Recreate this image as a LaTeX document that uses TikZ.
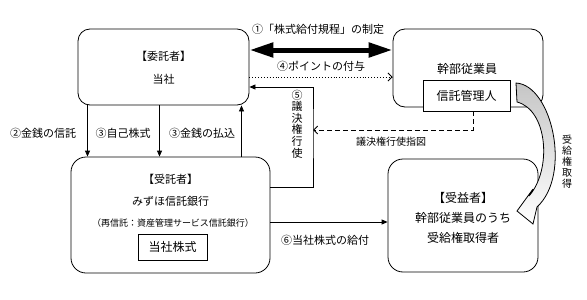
\documentclass[tikz,border=0pt]{standalone}
\usepackage{fontspec}
\setmainfont{Noto Sans CJK JP}
\usetikzlibrary{arrows.meta}

\begin{document}
\begin{tikzpicture}
[
	x=1pt,y=-1pt,
	box/.style={draw,line width=0.8pt,rounded corners=12pt,inner sep=0pt},
	subbox/.style={draw,fill=white,line width=0.8pt,inner sep=0pt,font=\fontsize{12}{14}\selectfont},
	lbl/.style={inner sep=0pt,align=center,font=\fontsize{11}{13}\selectfont},
	arr/.style={-{Triangle[length=6pt,width=5pt]},line width=0.8pt},
	openarr/.style={-{Straight Barb[length=4pt,width=8pt]},line width=0.9pt},
	bigarr/.style={{Triangle[length=24pt,width=14pt]}-{Triangle[length=24pt,width=14pt]},line width=5pt}
]

	\useasboundingbox (0,0) rectangle (587,300);

	% boxes
	\node[box,minimum width=171pt,minimum height=76pt] (cons) at (163.5,67) {};
	\node[lbl,font=\fontsize{11}{23}\selectfont] (consname) at (163.5,68) {【委託者】\\当社};

	\node[box,minimum width=150pt,minimum height=78pt] (exec) at (468,68) {};
	\node[lbl,font=\fontsize{12}{14}\selectfont] (execname) at (467,69) {幹部従業員};
	\node[subbox,minimum width=87pt,minimum height=31pt] (mgr) at (466.5,95.5) {信託管理人};

	\node[box,rounded corners=15pt,minimum width=199pt,minimum height=116pt] (trustee) at (170.5,215) {};
	\node[lbl,font=\fontsize{11}{22}\selectfont] (trusteename) at (170.5,190) {【受託者】\\みずほ信託銀行};
	\node[lbl,font=\fontsize{9}{11}\selectfont] (resub) at (173,223) {（再信託：資産管理サービス信託銀行）};
	\node[subbox,minimum width=69pt,minimum height=26pt] (stock) at (172.5,247) {当社株式};

	\node[box,rounded corners=15pt,minimum width=150pt,minimum height=113pt] (benef) at (463,215.5) {};
	\node[lbl,font=\fontsize{12}{20}\selectfont] (benefname) at (463,218) {【受益者】\\幹部従業員のうち\\受給権取得者};

	% arrows between the boxes
	\draw[bigarr] ([yshift=17pt]cons.east) -- ([yshift=18pt]exec.west);
	\node[lbl] (l1) at (318,29) {①「株式給付規程」の制定};

	\draw[openarr,dotted] ([yshift=-10pt]cons.east) -- ([yshift=-9pt]exec.west);
	\node[lbl] (l4) at (321,66) {④ポイントの付与};

	\draw[arr] ([xshift=-76pt]cons.south) -- ([xshift=-76pt]cons.south |- trustee.north);
	\node[lbl] (l2) at (43,133) {②金銭の信託};
	\draw[arr] ([xshift=-4pt]cons.south) -- ([xshift=-4pt]cons.south |- trustee.north);
	\node[lbl] (l3a) at (123,133) {③自己株式};
	\draw[arr] ([xshift=78pt]cons.south |- trustee.north) -- ([xshift=78pt]cons.south);
	\node[lbl] (l3b) at (202,133) {③金銭の払込};

	\coordinate (vote) at (313,130);
	\draw[arr] ([yshift=28pt]trustee.east) -| (vote) |- ([yshift=-20pt]cons.east);
	\node[lbl,font=\fontsize{11}{11.6}\selectfont] (l5) at (297,124) {⑤\\議\\決\\権\\行\\使};

	\draw[openarr,dashed,dash pattern=on 5pt off 3pt] ([xshift=6.5pt]mgr.south) |- (vote);
	\node[lbl,font=\fontsize{10}{12}\selectfont] (lvote) at (391,142) {議決権行使指図};

	\draw[arr] ([yshift=-7pt]trustee.east) -- ([yshift=-7pt]trustee.east -| benef.west);
	\node[lbl] (l6) at (325,240) {⑥当社株式の給付};

	% curved arrow
	\draw[line width=0.8pt,top color=gray!45,bottom color=white]
	  (516,83) .. controls (552,85) and (572,175) .. (537,207)
	  -- (533,224) -- (517,211) -- (533,189) -- (529,196)
	  .. controls (552,170) and (548,110) .. (517,102) -- cycle;
	\node[lbl,font=\fontsize{10}{11}\selectfont] (lget) at (567,162) {受\\給\\権\\取\\得};

\end{tikzpicture}
\end{document}
